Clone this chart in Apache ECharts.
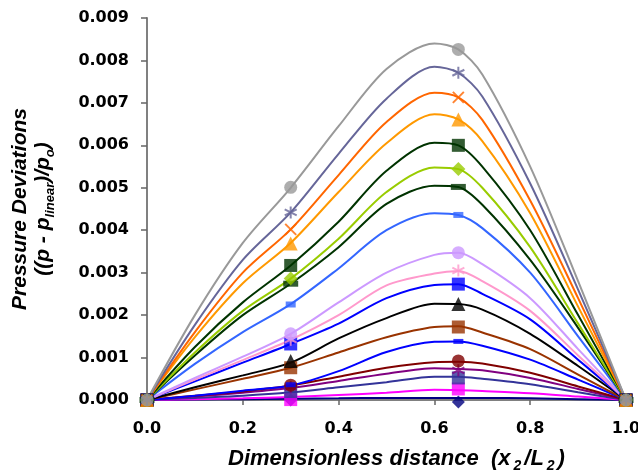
<!DOCTYPE html>
<html>
<head>
<meta charset="utf-8">
<script src="https://cdn.jsdelivr.net/npm/echarts@6/dist/echarts.min.js"></script>
<style>
  html, body { margin: 0; padding: 0; background: #fff; }
  #chart { width: 638px; height: 474px; }
</style>
</head>
<body>
<div id="chart"></div>
<script>
// x positions of the curve points and of the plotted markers
const xLine = [0, 0.1, 0.2, 0.3, 0.4, 0.5, 0.6, 0.65, 0.7, 0.8, 0.9, 1.0];
const xMark = [0, 0.3, 0.65, 1.0];

// axis ranges
const xRange = [0, 1.0, 0.2];
const yRange = [0, 0.009, 0.001];

// curves, top to bottom
const line01 = [0, 0.0020, 0.0037, 0.0050, 0.00645, 0.0078, 0.0084, 0.00826, 0.00767, 0.0055, 0.0028, 0];
const line02 = [0, 0.00177, 0.0033, 0.00442, 0.0058, 0.0071, 0.00785, 0.00771, 0.00715, 0.0051, 0.0026, 0];
const line03 = [0, 0.0016, 0.0030, 0.00402, 0.0053, 0.00655, 0.00724, 0.00713, 0.0066, 0.0047, 0.0024, 0];
const line04 = [0, 0.00148, 0.00275, 0.0037, 0.0049, 0.00605, 0.00673, 0.00661, 0.0061, 0.0044, 0.0022, 0];
const line05 = [0, 0.00125, 0.0023, 0.00317, 0.0042, 0.0054, 0.00606, 0.0060, 0.0055, 0.0040, 0.0020, 0];
const line06 = [0, 0.00112, 0.0021, 0.00286, 0.0038, 0.0049, 0.00548, 0.00544, 0.0050, 0.0036, 0.0018, 0];
const line07 = [0, 0.00105, 0.0020, 0.00274, 0.0036, 0.00462, 0.00505, 0.00502, 0.0046, 0.0033, 0.0017, 0];
const line08 = [0, 0.00085, 0.0016, 0.00226, 0.0031, 0.0040, 0.0044, 0.00436, 0.00405, 0.0030, 0.0015, 0];
const line09 = [0, 0.00052, 0.00102, 0.00156, 0.0023, 0.0030, 0.00342, 0.00347, 0.0032, 0.0024, 0.0012, 0];
const line10 = [0, 0.00048, 0.00094, 0.00142, 0.0020, 0.0027, 0.00298, 0.00304, 0.0028, 0.0021, 0.00105, 0];
const line11 = [0, 0.00044, 0.00088, 0.00132, 0.0018, 0.0024, 0.00271, 0.00273, 0.0025, 0.0019, 0.00095, 0];
const line12 = [0, 0.0003, 0.00058, 0.00088, 0.00145, 0.00193, 0.00227, 0.00226, 0.00213, 0.00156, 0.0008, 0];
const line13 = [0, 0.00025, 0.0005, 0.00076, 0.00112, 0.00148, 0.00172, 0.00174, 0.00159, 0.0012, 0.0006, 0];
const line14 = [0, 0.0001, 0.00022, 0.00034, 0.00068, 0.00113, 0.00137, 0.00138, 0.00128, 0.00095, 0.00048, 0];
const line15 = [0, 0.0001, 0.0002, 0.00034, 0.00055, 0.00076, 0.00089, 0.0009, 0.00086, 0.00064, 0.00032, 0];
const line16 = [0, 0.00008, 0.00017, 0.00028, 0.00045, 0.00062, 0.00075, 0.00073, 0.0007, 0.00052, 0.00026, 0];
const line17 = [0, 0.00005, 0.0001, 0.00018, 0.0003, 0.00042, 0.00055, 0.00055, 0.0005, 0.00037, 0.00018, 0];
const line18 = [0, 0.00002, 0.00004, 0.00007, 0.00012, 0.00017, 0.00024, 0.00023, 0.00021, 0.00016, 0.00008, 0];
const line19 = [0, 0.00001, 0.00002, 0.00003, 0.00004, 0.00005, 0.00005, 0.00005, 0.00005, 0.00004, 0.00002, 0];

// marker values at xMark
const mark01 = [0, 0.00501, 0.00826, 0];
const mark02 = [0, 0.00442, 0.00771, 0];
const mark03 = [0, 0.00402, 0.00713, 0];
const mark04 = [0, 0.00369, 0.00661, 0];
const mark05 = [0, 0.00317, 0.0060, 0];
const mark06 = [0, 0.00286, 0.00544, 0];
const mark07 = [0, 0.00274, 0.00502, 0];
const mark08 = [0, 0.00225, 0.00436, 0];
const mark09 = [0, 0.00156, 0.00347, 0];
const mark10 = [0, 0.00142, 0.00305, 0];
const mark11 = [0, 0.00132, 0.00273, 0];
const mark12 = [0, 0.00092, 0.00226, 0];
const mark13 = [0, 0.00076, 0.00172, 0];
const mark14 = [0, 0.00036, 0.00138, 0];
const mark15 = [0, 0.00035, 0.00092, 0];
const mark16 = [0, 0.0003, 0.0007, 0];
const mark17 = [0, 0.0002, 0.00052, 0];
const mark18 = [0, 0.00001, 0.00026, 0];
const mark19 = [0, 0, -0.00005, 0];

const lines = [line01, line02, line03, line04, line05, line06, line07, line08, line09, line10,
               line11, line12, line13, line14, line15, line16, line17, line18, line19];
const marks = [mark01, mark02, mark03, mark04, mark05, mark06, mark07, mark08, mark09, mark10,
               mark11, mark12, mark13, mark14, mark15, mark16, mark17, mark18, mark19];

const STAR = 'path://M5,0L5,10M0.7,2.5L9.3,7.5M0.7,7.5L9.3,2.5';
const CROSS = 'path://M0,0L10,10M10,0L0,10';

const curveStyles = [
  { color: '#999999', symbol: 'circle', size: 13 },
  { color: '#666699', symbol: STAR, size: 12, stroke: true },
  { color: '#FF6600', symbol: CROSS, size: 11, stroke: true },
  { color: '#FF9900', symbol: 'triangle', size: 14 },
  { color: '#003300', symbol: 'rect', size: 13 },
  { color: '#99CC00', symbol: 'diamond', size: 14 },
  { color: '#003300', symbol: 'rect', size: [15, 6] },
  { color: '#3366FF', symbol: 'rect', size: [10, 6] },
  { color: '#CC99FF', symbol: 'circle', size: 13 },
  { color: '#FF99CC', symbol: STAR, size: 12, stroke: true },
  { color: '#0000FF', symbol: 'rect', size: 13 },
  { color: '#000000', symbol: 'triangle', size: 14 },
  { color: '#993300', symbol: 'rect', size: 13 },
  { color: '#0000FF', symbol: 'rect', size: [10, 5] },
  { color: '#800000', symbol: 'circle', size: 13 },
  { color: '#800080', symbol: STAR, size: 12, stroke: true },
  { color: '#333399', symbol: 'rect', size: 13 },
  { color: '#FF00FF', symbol: 'rect', size: 13 },
  { color: '#000080', symbol: 'diamond', size: 13 }
];

const chart = echarts.init(document.getElementById('chart'));

const series = [];
// bottom curves first so the upper ones sit on top
for (let i = lines.length - 1; i >= 0; i--) {
  const st = curveStyles[i];
  series.push({
    type: 'line',
    data: xLine.map((x, j) => [x, lines[i][j]]),
    showSymbol: false,
    smooth: 0.3,
    silent: true,
    lineStyle: { color: st.color, width: 2 },
    z: 2
  });
}
for (let i = marks.length - 1; i >= 0; i--) {
  const st = curveStyles[i];
  series.push({
    type: 'scatter',
    data: xMark.map((x, j) => [x, marks[i][j]]),
    symbol: st.symbol,
    symbolSize: st.size,
    clip: false,
    silent: true,
    itemStyle: st.stroke
      ? { color: st.color, borderColor: st.color, borderWidth: 2 }
      : { color: st.color, borderWidth: 0 },
    z: 3
  });
}

const titleFont = {
  fontFamily: 'Liberation Sans, Arial',
  fontWeight: 'bold',
  fontStyle: 'italic',
  color: '#000'
};
const tickFont = {
  fontFamily: 'DejaVu Sans',
  fontWeight: 'bold',
  fontSize: 16,
  color: '#000'
};

const option = {
  animation: false,
  backgroundColor: '#fff',
  grid: { left: 147, right: 12, top: 18, bottom: 74, outerBoundsMode: 'none' },
  xAxis: {
    type: 'value',
    min: xRange[0], max: xRange[1], interval: xRange[2],
    axisLine: { show: true, onZero: false, lineStyle: { color: '#808080', width: 2 } },
    axisTick: { show: true, length: 5, lineStyle: { color: '#666', width: 1.5 } },
    axisLabel: Object.assign({ margin: 21, formatter: v => v.toFixed(1) }, tickFont),
    splitLine: { show: false },
    name: '{t|Dimensionless distance  (x}{s|2}{t|/L}{s|2}{t|)}',
    nameLocation: 'middle',
    nameGap: 46,
    nameTextStyle: {
      padding: [0, 0, 0, 20],
      rich: {
        t: Object.assign({ fontSize: 22, lineHeight: 25 }, titleFont),
        s: Object.assign({ fontSize: 14, lineHeight: 25, padding: [16, 3, 0, 3] }, titleFont)
      }
    }
  },
  yAxis: {
    type: 'value',
    min: yRange[0], max: yRange[1], interval: yRange[2],
    axisLine: { show: true, lineStyle: { color: '#808080', width: 2 } },
    axisTick: { show: true, length: 6, lineStyle: { color: '#666', width: 1.5 } },
    axisLabel: Object.assign({ margin: 18, formatter: v => v.toFixed(3) }, tickFont),
    splitLine: { show: false },
    name: '{t|Pressure Deviations}\n{t|((p - p}{s|linear}{t|)/p}{s|o}{t|)}',
    nameLocation: 'middle',
    nameRotate: 90,
    nameGap: 92,
    nameTextStyle: {
      rich: {
        t: Object.assign({ fontSize: 21, lineHeight: 23 }, titleFont),
        s: Object.assign({ fontSize: 13, lineHeight: 23, padding: [14, 0, 0, 0] }, titleFont)
      }
    }
  },
  series: series
};

chart.setOption(option);
</script>
</body>
</html>
